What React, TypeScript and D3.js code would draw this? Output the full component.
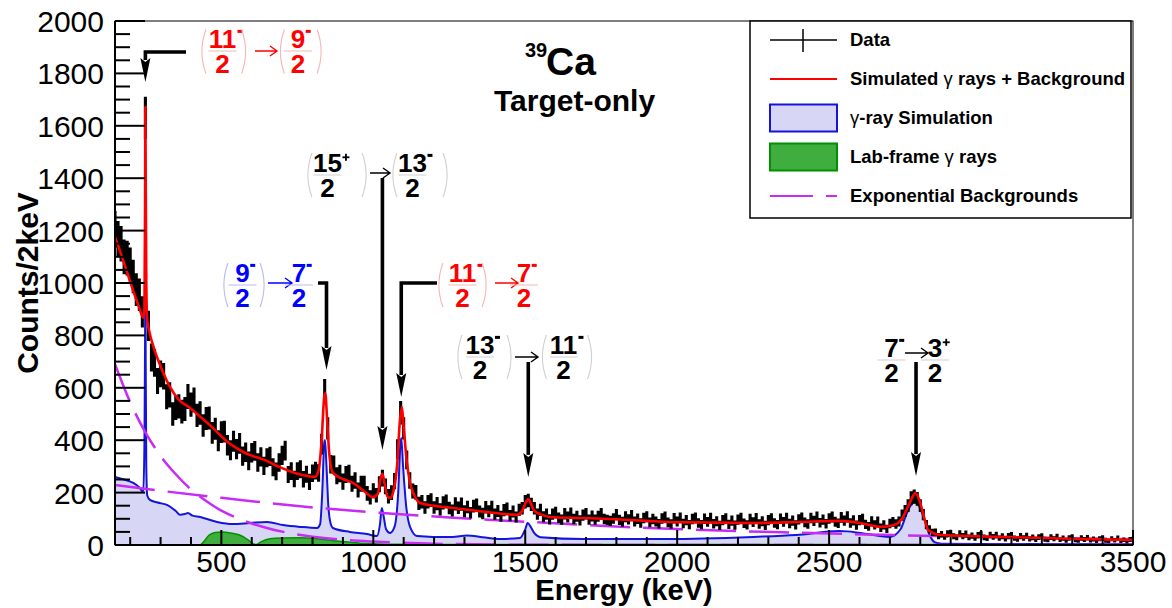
import React from 'react'
import * as d3 from 'd3'

const W = 1172
const H = 608
const PLOT = { left: 115, right: 1133, top: 21, bottom: 545 }

const E_MIN = 150
const E_MAX = 3500
const BIN = 10
// each 10 keV column stands for five 2 keV bins: draw their spread, about two sigma each way
const SPREAD = 2

// Data, counts per 2 keV, one value per 10 keV step starting at 150 keV
const DATA_COUNTS = [
  1205, 1168, 1150, 1100, 1095, 1070, 1025, 975, 955, 890, // 150
  1630, 836, 716, 695, 626, 653, 644, 566, 573, 500, // 250
  523, 529, 509, 519, 567, 536, 554, 495, 504, 456, // 350
  483, 485, 428, 444, 398, 431, 433, 381, 362, 396, // 450
  366, 388, 339, 354, 321, 352, 359, 315, 336, 302, // 550
  333, 338, 297, 281, 315, 342, 360, 269, 282, 252, // 650
  282, 289, 251, 270, 241, 274, 284, 275, 385, 585, // 750
  445, 308, 307, 264, 273, 242, 269, 273, 234, 246, // 850
  210, 234, 234, 197, 182, 207, 190, 232, 255, 224, // 950
  186, 200, 244, 365, 505, 445, 325, 246, 206, 201, // 1050
  159, 165, 143, 165, 171, 143, 158, 136, 161, 167, // 1150
  141, 132, 157, 142, 156, 129, 145, 123, 148, 153, // 1250
  128, 120, 144, 129, 145, 118, 130, 110, 133, 139, // 1350
  112, 128, 107, 134, 140, 165, 170, 155, 140, 118, // 1450
  134, 108, 118, 98, 118, 124, 104, 97, 119, 107, // 1550
  121, 99, 110, 94, 114, 119, 97, 111, 97, 110, // 1650
  119, 99, 96, 92, 101, 116, 96, 89, 108, 98, // 1750
  112, 90, 100, 84, 103, 108, 86, 99, 90, 81, // 1850
  101, 107, 86, 80, 102, 90, 104, 82, 95, 78, // 1950
  99, 104, 84, 78, 100, 88, 103, 81, 91, 75, // 2050
  95, 101, 79, 93, 76, 97, 103, 83, 77, 99, // 2150
  87, 102, 80, 91, 75, 95, 101, 84, 78, 100, // 2250
  88, 103, 82, 93, 77, 98, 104, 86, 80, 103, // 2350
  92, 107, 85, 97, 81, 101, 107, 89, 83, 105, // 2450
  93, 108, 84, 94, 76, 95, 99, 79, 71, 91, // 2550
  77, 90, 66, 77, 62, 82, 88, 80, 90, 114, // 2650
  130, 150, 178, 185, 176, 150, 116, 78, 60, 48, // 2750
  49, 34, 41, 31, 43, 45, 33, 29, 43, 34, // 2850
  42, 29, 36, 26, 37, 40, 29, 25, 38, 31, // 2950
  38, 26, 33, 23, 34, 37, 26, 22, 34, 27, // 3050
  35, 23, 29, 20, 30, 33, 22, 19, 30, 24, // 3150
  32, 20, 26, 17, 27, 30, 19, 17, 27, 21, // 3250
  28, 18, 23, 15, 24, 27, 17, 15, 24, 18, // 3350
  26, 15, 20, 13, 21, 22, // 3450
]

// Simulated gamma rays + background  [keV, counts]
const FIT_TOTAL: [number, number][] = [
  [150, 1176], [170, 1110], [190, 1040], [210, 970], [230, 905], [243, 868], [247, 900],
  [249, 1300], [250, 1672], [251, 1400], [253, 1000], [256, 860], [262, 820], [280, 745],
  [305, 668], [330, 605], [361, 553], [393, 527], [430, 490], [469, 450], [500, 415],
  [525, 389], [550, 370], [578, 351], [610, 337], [644, 324], [690, 298], [742, 275],
  [790, 262], [808, 260], [820, 285], [830, 400], [838, 560], [842, 580], [848, 480],
  [855, 350], [867, 275], [900, 252], [933, 237], [970, 205], [999, 183], [1015, 195],
  [1023, 250], [1030, 272], [1038, 230], [1047, 185], [1055, 179], [1065, 200], [1078, 300],
  [1088, 480], [1094, 527], [1100, 450], [1110, 320], [1121, 237], [1135, 190], [1154, 160],
  [1200, 150], [1262, 141], [1374, 126], [1473, 115], [1490, 130], [1503, 165], [1510, 175],
  [1518, 160], [1530, 130], [1549, 118], [1581, 107], [1690, 103], [1800, 98], [1900, 92],
  [1970, 88], [2100, 86], [2251, 84], [2400, 88], [2532, 92], [2602, 84], [2672, 69],
  [2710, 75], [2740, 100], [2765, 160], [2784, 198], [2800, 160], [2815, 95], [2826, 57],
  [2868, 38], [3000, 33], [3093, 30], [3300, 24], [3500, 19],
]

// gamma-ray simulation
const GAMMA_SIM: [number, number][] = [
  [150, 260], [180, 250], [210, 237], [230, 220], [243, 202], [247, 400], [249, 800],
  [250, 1025], [251, 700], [253, 300], [256, 190], [265, 172], [290, 162], [321, 153],
  [350, 130], [364, 115], [380, 118], [390, 122], [405, 112], [430, 107], [486, 88],
  [538, 80], [594, 84], [650, 88], [703, 76], [759, 69], [815, 65], [825, 80], [832, 200],
  [838, 380], [841, 401], [846, 300], [852, 150], [860, 80], [867, 65], [923, 50], [979, 42],
  [1012, 34], [1022, 80], [1028, 141], [1034, 110], [1042, 60], [1055, 46], [1070, 70],
  [1082, 200], [1089, 380], [1092, 408], [1098, 300], [1108, 150], [1121, 69], [1144, 34],
  [1196, 31], [1260, 31], [1308, 36], [1360, 30], [1417, 23], [1483, 27], [1500, 60],
  [1508, 84], [1515, 75], [1530, 45], [1550, 30], [1690, 23], [1970, 23], [2251, 31],
  [2391, 38], [2532, 53], [2560, 52], [2602, 46], [2700, 31], [2735, 60], [2756, 122],
  [2775, 160], [2784, 164], [2795, 150], [2812, 103], [2830, 40], [2847, 11], [2870, 5],
  [3000, 4], [3500, 3],
]

// Lab-frame gamma rays
const LAB_FRAME: [number, number][] = [
  [150, 0], [430, 0], [440, 10], [460, 38], [480, 48], [500, 50], [535, 45], [560, 38],
  [590, 18], [605, 4], [615, 2], [630, 12], [660, 24], [700, 27], [760, 28], [815, 24],
  [870, 16], [930, 10], [980, 6], [1050, 3], [1200, 2], [1500, 2], [2000, 2], [3500, 1],
]

// Exponential backgrounds
const EXP_STEEP: [number, number][] = [
  [150, 690], [200, 545], [250, 430], [300, 340], [350, 270], [400, 212], [450, 168],
  [500, 131], [550, 104], [600, 82], [650, 65], [700, 51], [800, 32], [900, 20],
  [1000, 13], [1200, 5], [1500, 1], [2000, 0], [3500, 0],
]
const EXP_FLAT: [number, number][] = [
  [150, 229], [300, 207], [500, 180], [825, 141], [1000, 125], [1250, 105], [1581, 84],
  [1830, 69], [2110, 56], [2391, 47], [2672, 39], [2953, 32], [3500, 22],
]

const X_MAJOR = [500, 1000, 1500, 2000, 2500, 3000, 3500]
const Y_MAJOR = [0, 200, 400, 600, 800, 1000, 1200, 1400, 1600, 1800, 2000]

const FONT = '"Liberation Sans", Arial, Helvetica, sans-serif'

const x = d3.scaleLinear().domain([E_MIN, E_MAX]).range([PLOT.left, PLOT.right])
const y = d3.scaleLinear().domain([0, 2000]).range([PLOT.bottom, PLOT.top])

const line = d3.line<[number, number]>()
  .x(d => x(d[0]))
  .y(d => y(d[1]))
  .curve(d3.curveMonotoneX)

const area = d3.area<[number, number]>()
  .x(d => x(d[0]))
  .y0(y(0))
  .y1(d => y(d[1]))
  .curve(d3.curveMonotoneX)

const PALE = { red: '#f6b4b4', blue: '#b9b9f4', black: '#cfcfcf' }

function Paren({ cx, cy, side, color }: { cx: number, cy: number, side: 'l' | 'r', color: string }) {
  const h = 22
  const b = side === 'l' ? -4 : 4
  return (
    <path d={`M${cx - b * 0.6},${cy - h} Q${cx + b * 1.4},${cy} ${cx - b * 0.6},${cy + h}`}
      fill="none" stroke={color} strokeWidth={1.1} />
  )
}

function Frac({ cx, bar, num, sign, den, color, pale, fs = 26 }:
  { cx: number, bar: number, num: string, sign: string, den: string, color: string, pale: string, fs?: number }) {
  const half = num.length * 0.278 * fs
  const top = bar - 3 - 0.716 * fs
  const sx = cx + half + 0.5
  return (
    <g>
      <text x={cx} y={bar - 3} textAnchor="middle" fontSize={fs} fontWeight="bold" fill={color}>{num}</text>
      {sign === '-'
        ? <rect x={sx} y={top + 0.5} width={5} height={3} fill={color} />
        : <g fill={color}>
            <rect x={sx} y={top + 3} width={7} height={1.8} />
            <rect x={sx + 2.6} y={top + 0.4} width={1.8} height={7} />
          </g>}
      <line x1={cx - 14} x2={cx + 14} y1={bar} y2={bar} stroke={pale} strokeWidth={1} />
      <text x={cx} y={bar + 3 + 0.716 * fs} textAnchor="middle" fontSize={fs} fontWeight="bold" fill={color}>{den}</text>
    </g>
  )
}

function ThinArrow({ x1, x2, yy, color }: { x1: number, x2: number, yy: number, color: string }) {
  return (
    <path d={`M${x1},${yy}H${x2}M${x2 - 7},${yy - 5}L${x2},${yy}L${x2 - 7},${yy + 5}`}
      fill="none" stroke={color} strokeWidth={1.4} />
  )
}

// thick pointer arrow down to a peak, optional elbow from the label side
function Pointer({ e, tip, startY, elbowX }: { e: number, tip: number, startY: number, elbowX?: number }) {
  const px = x(e)
  const ty = y(tip)
  const headLen = 24
  const d = elbowX != null
    ? `M${elbowX},${startY}H${px}V${ty - headLen + 2}`
    : `M${px},${startY}V${ty - headLen + 2}`
  return (
    <g>
      <path d={d} fill="none" stroke="#000" strokeWidth={3.6} />
      <path d={`M${px - 5},${ty - headLen}L${px},${ty - headLen + 4}L${px + 5},${ty - headLen}L${px},${ty}Z`} fill="#000" />
    </g>
  )
}

export default function App() {
  const errPath = DATA_COUNTS.map((v, i) => {
    const e = E_MIN + i * BIN
    const err = SPREAD * Math.sqrt(v)
    return `M${x(e)},${y(v + err)}V${y(v - err)}M${x(e - BIN / 2)},${y(v)}H${x(e + BIN / 2)}`
  }).join('')

  const xMinor = d3.range(200, E_MAX + 1, 100).filter(t => t % 500 !== 0)
  const yMinor = d3.range(50, 2000, 50).filter(t => t % 200 !== 0)

  const legendRows = [40, 79, 118, 157, 196]

  return (
    <svg width={W} height={H} style={{ position: 'absolute', left: 0, top: 0, background: '#fff' }}
      fontFamily={FONT}>
      <defs>
        <clipPath id="plot">
          <rect x={PLOT.left} y={PLOT.top} width={PLOT.right - PLOT.left} height={PLOT.bottom - PLOT.top} />
        </clipPath>
      </defs>

      <g clipPath="url(#plot)">
        <path d={area(GAMMA_SIM) ?? ''} fill="#d7d7f5" />
        <path d={area(LAB_FRAME) ?? ''} fill="#3fae3f" stroke="#009000" strokeWidth={1.5} />
        <path d={line(GAMMA_SIM) ?? ''} fill="none" stroke="#1414dc" strokeWidth={2} />
        <path d={line(EXP_STEEP) ?? ''} fill="none" stroke="#c62cf5" strokeWidth={2.5} strokeDasharray="40,13" />
        <path d={line(EXP_FLAT) ?? ''} fill="none" stroke="#c62cf5" strokeWidth={2.5} strokeDasharray="40,13" />
        <path d={errPath} fill="none" stroke="#000" strokeWidth={3.1} />
        <path d={line(FIT_TOTAL) ?? ''} fill="none" stroke="#ff0000" strokeWidth={2.6} />
      </g>

      {/* frame */}
      <rect x={PLOT.left} y={PLOT.top} width={PLOT.right - PLOT.left} height={PLOT.bottom - PLOT.top}
        fill="none" stroke="#000" strokeWidth={1} />
      <line x1={PLOT.left} x2={PLOT.left} y1={PLOT.top} y2={PLOT.bottom} stroke="#000" strokeWidth={2} />
      <line x1={PLOT.left} x2={PLOT.right} y1={PLOT.bottom} y2={PLOT.bottom} stroke="#000" strokeWidth={2} />

      {/* x axis */}
      {X_MAJOR.map(t => (
        <g key={'xm' + t}>
          <line x1={x(t)} x2={x(t)} y1={PLOT.bottom} y2={PLOT.bottom - 15} stroke="#000" strokeWidth={2} />
          <text x={x(t)} y={572} textAnchor="middle" fontSize={30}>{t}</text>
        </g>
      ))}
      {xMinor.map(t => (
        <line key={'xn' + t} x1={x(t)} x2={x(t)} y1={PLOT.bottom} y2={PLOT.bottom - 8} stroke="#000" strokeWidth={2} />
      ))}
      <text x={(PLOT.left + PLOT.right) / 2} y={600} textAnchor="middle" fontSize={29} fontWeight="bold">Energy (keV)</text>

      {/* y axis */}
      {Y_MAJOR.map(t => (
        <g key={'ym' + t}>
          <line x1={PLOT.left} x2={PLOT.left + 30} y1={y(t)} y2={y(t)} stroke="#000" strokeWidth={2} />
          <text x={104} y={y(t) + 11} textAnchor="end" fontSize={30}>{t}</text>
        </g>
      ))}
      {yMinor.map(t => (
        <line key={'yn' + t} x1={PLOT.left} x2={PLOT.left + 15} y1={y(t)} y2={y(t)} stroke="#000" strokeWidth={2} />
      ))}
      <text transform={`translate(38,${(PLOT.top + PLOT.bottom) / 2}) rotate(-90)`} textAnchor="middle"
        fontSize={30} fontWeight="bold">Counts/2keV</text>

      {/* title */}
      <text x={525} y={57} fontSize={20} fontWeight="bold">39</text>
      <text x={546} y={75} fontSize={39} fontWeight="bold">Ca</text>
      <text x={494} y={111} fontSize={30} fontWeight="bold">Target-only</text>

      {/* pointers */}
      <Pointer e={250} tip={1767} startY={52} elbowX={186} />
      <Pointer e={846} tip={668} startY={283} elbowX={318} />
      <Pointer e={1030} tip={363} startY={178} />
      <Pointer e={1092} tip={565} startY={283} elbowX={437} />
      <Pointer e={1510} tip={260} startY={362} />
      <Pointer e={2786} tip={263} startY={362} />

      {/* 11/2- -> 9/2- (red) */}
      <Paren cx={203.5} cy={51.5} side="l" color={PALE.red} />
      <Frac cx={222.5} bar={51} num="11" sign="-" den="2" color="#ff0000" pale={PALE.red} />
      <Paren cx={244} cy={51.5} side="r" color={PALE.red} />
      <ThinArrow x1={255} x2={277} yy={51} color="#ff0000" />
      <Paren cx={282} cy={51.5} side="l" color={PALE.red} />
      <Frac cx={298} bar={51} num="9" sign="-" den="2" color="#ff0000" pale={PALE.red} />
      <Paren cx={319.5} cy={51.5} side="r" color={PALE.red} />

      {/* 9/2- -> 7/2- (blue) */}
      <Paren cx={225.5} cy={285} side="l" color={PALE.blue} />
      <Frac cx={242.5} bar={285} num="9" sign="-" den="2" color="#0000ff" pale={PALE.blue} />
      <Paren cx={262.5} cy={285} side="r" color={PALE.blue} />
      <ThinArrow x1={268} x2={292} yy={283} color="#0000ff" />
      <Frac cx={299} bar={285} num="7" sign="-" den="2" color="#0000ff" pale={PALE.blue} />

      {/* 15/2+ -> 13/2- */}
      <Paren cx={309.5} cy={175} side="l" color={PALE.black} />
      <Frac cx={327.5} bar={175} num="15" sign="+" den="2" color="#000" pale={PALE.black} />
      <Paren cx={364.5} cy={175} side="r" color={PALE.black} />
      <ThinArrow x1={370} x2={390} yy={173} color="#000" />
      <Paren cx={394.5} cy={175} side="l" color={PALE.black} />
      <Frac cx={412.5} bar={175} num="13" sign="-" den="2" color="#000" pale={PALE.black} />
      <Paren cx={445.5} cy={175} side="r" color={PALE.black} />

      {/* 11/2- -> 7/2- (red) */}
      <Paren cx={440.5} cy={285} side="l" color={PALE.red} />
      <Frac cx={462.5} bar={285} num="11" sign="-" den="2" color="#ff0000" pale={PALE.red} />
      <Paren cx={484.5} cy={285} side="r" color={PALE.red} />
      <ThinArrow x1={495} x2={518} yy={283} color="#ff0000" />
      <Frac cx={524} bar={285} num="7" sign="-" den="2" color="#ff0000" pale={PALE.red} />

      {/* 13/2- -> 11/2- */}
      <Paren cx={459.5} cy={357} side="l" color={PALE.black} />
      <Frac cx={480} bar={357} num="13" sign="-" den="2" color="#000" pale={PALE.black} />
      <Paren cx={509.5} cy={357} side="r" color={PALE.black} />
      <ThinArrow x1={515} x2={538} yy={357} color="#000" />
      <Paren cx={544} cy={357} side="l" color={PALE.black} />
      <Frac cx={563.5} bar={357} num="11" sign="-" den="2" color="#000" pale={PALE.black} />
      <Paren cx={590} cy={357} side="r" color={PALE.black} />

      {/* 7/2- -> 3/2+ */}
      <Frac cx={891.5} bar={360} num="7" sign="-" den="2" color="#000" pale={PALE.black} />
      <ThinArrow x1={905} x2={928} yy={353} color="#000" />
      <Frac cx={935} bar={360} num="3" sign="+" den="2" color="#000" pale={PALE.black} />

      {/* legend */}
      <rect x={750} y={21} width={381} height={197} fill="#fff" stroke="#000" strokeWidth={1.5} />
      <line x1={770} x2={837} y1={legendRows[0]} y2={legendRows[0]} stroke="#000" strokeWidth={1.5} />
      <line x1={803} x2={803} y1={legendRows[0] - 11} y2={legendRows[0] + 12} stroke="#000" strokeWidth={1.5} />
      <line x1={770} x2={837} y1={legendRows[1]} y2={legendRows[1]} stroke="#ff0000" strokeWidth={2.2} />
      <rect x={770} y={legendRows[2] - 13.5} width={67} height={27} fill="#d7d7f5" stroke="#1414dc" strokeWidth={2} />
      <rect x={770} y={legendRows[3] - 13.5} width={67} height={27} fill="#3fae3f" stroke="#009000" strokeWidth={2} />
      <line x1={770} x2={837} y1={legendRows[4]} y2={legendRows[4]} stroke="#c62cf5" strokeWidth={2.2} strokeDasharray="43,13" />
      <g fontSize={18.5} fontWeight="bold">
        <text x={850} y={legendRows[0] + 6}>Data</text>
        <text x={850} y={legendRows[1] + 6}>Simulated <tspan fontWeight="normal">γ</tspan> rays + Background</text>
        <text x={850} y={legendRows[2] + 6}><tspan fontWeight="normal">γ</tspan>-ray Simulation</text>
        <text x={850} y={legendRows[3] + 6}>Lab-frame <tspan fontWeight="normal">γ</tspan> rays</text>
        <text x={850} y={legendRows[4] + 6}>Exponential Backgrounds</text>
      </g>
    </svg>
  )
}
